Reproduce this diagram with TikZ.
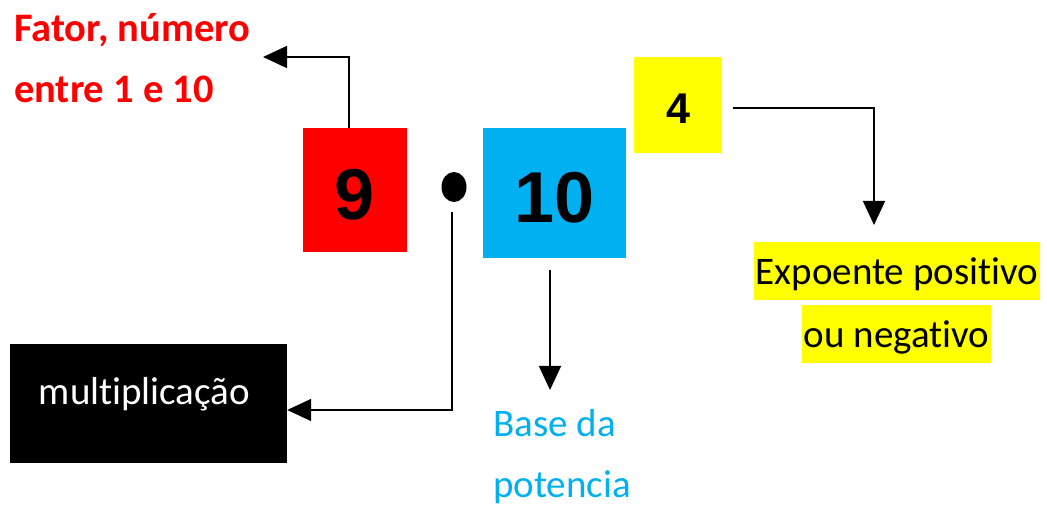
\documentclass[tikz,border=0pt]{standalone}
\usepackage{fontspec}
\setmainfont{Carlito}[Ligatures=NoCommon]
\newfontfamily\numfont{Liberation Sans}
\usetikzlibrary{arrows.meta,shapes.geometric}
\definecolor{cred}{HTML}{FF0000}
\definecolor{cblue}{HTML}{00B0F0}
\definecolor{cyellow}{HTML}{FFFF00}
\tikzset{
  numbox/.style={rectangle, inner sep=0pt, text=black,
    font=\numfont\bfseries\fontsize{72}{72}\selectfont,
    text height=58.5pt, text depth=0pt},
  smallnumbox/.style={numbox, font=\numfont\bfseries\fontsize{43}{43}\selectfont,
    text height=37.8pt},
  label text/.style={font=\fontsize{39}{61}\selectfont, inner sep=0pt, align=left},
  hilite/.style={fill=cyellow, font=\fontsize{39}{61}\selectfont, inner xsep=2pt,
    inner ysep=0pt, text height=43pt, text depth=15pt},
  conn/.style={draw=black, line width=1.6pt, -{Triangle[length=24pt,width=22pt]}},
}
\begin{document}
\begin{tikzpicture}[x=1pt,y=1pt]
\useasboundingbox (0,0) rectangle (1047,508);
\fill[white] (0,0) rectangle (1047,508);

% boxes
\node[numbox, fill=cred, minimum width=104pt, minimum height=124pt] (nine) at (355,318) {9};
\node[numbox, fill=cblue, minimum width=143pt, minimum height=130pt] (ten) at (554.5,315) {10};
\node[smallnumbox, fill=cyellow, minimum width=88pt, minimum height=96pt] (four) at (678,403) {4};
\node[ellipse, fill=black, inner sep=0pt, minimum width=25pt, minimum height=30pt] (dot) at (454,321) {};
\node[rectangle, fill=black, text=white, font=\fontsize{39}{39}\selectfont, inner sep=0pt,
  minimum width=277pt, minimum height=119pt, text height=10pt, text depth=7pt] (mult) at (148.5,104.5) {\hspace*{-8pt}multiplicação};

% labels (base anchor of a multi-line node = baseline of its last line)
\node[label text, text=cred, font=\bfseries\fontsize{40.5}{61}\selectfont, anchor=base west] (fator) at (14,405) {Fator, número\\entre 1 e 10};
\node[label text, text=cblue, anchor=base west] (base) at (493,10) {Base da\\potencia};
\node[hilite, anchor=base] (exp1) at (897,223) {Expoente positivo};
\node[hilite, anchor=base] (exp2) at (896.5,160) {ou negativo};

% free ends
\coordinate (fatortip) at (263,451);
\coordinate (basetip) at (550,118);
\coordinate (exptip) at (874,283);

% connectors
\draw[conn] ([xshift=-6pt]nine.north) |- (fatortip);
\draw[conn] ([xshift=-2pt,yshift=-10pt]dot.south) |- ([yshift=-6.5pt]mult.east);
\draw[conn] ([xshift=-4.5pt,yshift=-12pt]ten.south) -- (basetip);
\draw[conn] ([xshift=11pt,yshift=-3pt]four.east) -| (exptip);
\end{tikzpicture}
\end{document}
